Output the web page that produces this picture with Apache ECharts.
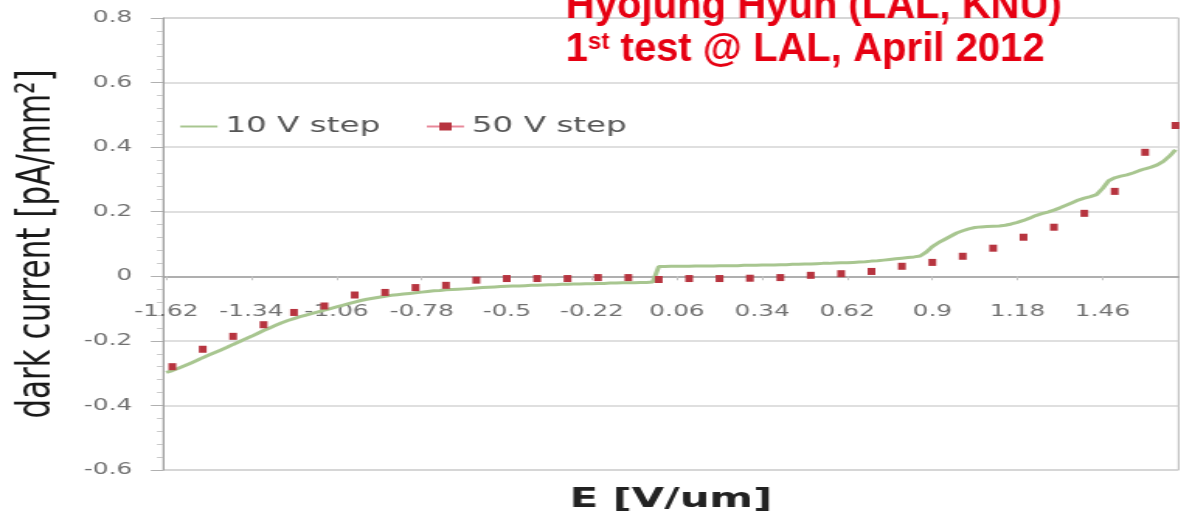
<!DOCTYPE html>
<html>
<head>
<meta charset="utf-8">
<script src="https://cdn.jsdelivr.net/npm/echarts@6/dist/echarts.min.js"></script>
<style>
  html, body { margin: 0; padding: 0; background: #ffffff; overflow: hidden; }
  #main { position: absolute; left: 0; top: 0; height: 518px; transform-origin: 0 0; }
</style>
</head>
<body>
<div id="main"></div>
<script>
// Field grid of the 10 V scan: E from -1.62 to 1.70 V/um in 0.02 steps (values in 1/100 V/um)
const E_START_CENTI = -162;
const E_STEP_CENTI = 2;
const E_COUNT = 167;

// Category labels printed under the axis
const tickLabels = ['-1.62', '-1.34', '-1.06', '-0.78', '-0.5', '-0.22', '0.06', '0.34', '0.62', '0.9', '1.18', '1.46'];

// Dark current density, 10 V steps [pA/mm^2]
const current10V = [
  -0.298, -0.292, -0.285, -0.277, -0.269, -0.261, -0.252, -0.244, -0.236, -0.228,
  -0.220, -0.211, -0.203, -0.194, -0.186, -0.177, -0.168, -0.160, -0.152, -0.144,
  -0.137, -0.131, -0.125, -0.120, -0.115, -0.110, -0.105, -0.100, -0.095, -0.090,
  -0.085, -0.080, -0.075, -0.071, -0.068, -0.065, -0.062, -0.059, -0.057, -0.055,
  -0.053, -0.051, -0.049, -0.047, -0.045, -0.044, -0.042, -0.041, -0.040, -0.039,
  -0.038, -0.036, -0.035, -0.034, -0.033, -0.032, -0.031, -0.030, -0.030, -0.029,
  -0.028, -0.028, -0.027, -0.026, -0.026, -0.025, -0.025, -0.024, -0.024, -0.023,
  -0.023, -0.022, -0.022, -0.021, -0.021, -0.020, -0.020, -0.020, -0.019, -0.019,
  -0.018,
  0.030, 0.030, 0.031, 0.031, 0.031, 0.031, 0.032, 0.032, 0.032, 0.032,
  0.033, 0.033, 0.033, 0.033, 0.034, 0.034, 0.034, 0.035, 0.035, 0.035,
  0.036, 0.036, 0.037, 0.037, 0.038, 0.038, 0.039, 0.040, 0.040, 0.041,
  0.042, 0.042, 0.043, 0.044, 0.045, 0.047, 0.048, 0.050, 0.052, 0.054,
  0.056, 0.058, 0.060, 0.063, 0.075, 0.092, 0.104, 0.114, 0.124, 0.134,
  0.141, 0.147, 0.151, 0.153, 0.154, 0.155, 0.156, 0.158, 0.162, 0.167,
  0.173, 0.180, 0.188, 0.194, 0.199, 0.205, 0.212, 0.220, 0.228, 0.236,
  0.242, 0.247, 0.253, 0.272, 0.296, 0.305, 0.310, 0.314, 0.320, 0.327,
  0.333, 0.338, 0.345, 0.356, 0.372, 0.392
];

// Field values of the 50 V scan [V/um]
const field50V = [
  -1.6, -1.5, -1.4, -1.3, -1.2, -1.1, -1.0, -0.9, -0.8, -0.7,
  -0.6, -0.5, -0.4, -0.3, -0.2, -0.1, 0.0, 0.1, 0.2, 0.3,
  0.4, 0.5, 0.6, 0.7, 0.8, 0.9, 1.0, 1.1, 1.2, 1.3,
  1.4, 1.5, 1.6, 1.7
];

// Dark current density, 50 V steps [pA/mm^2]
const current50V = [
  -0.280, -0.226, -0.186, -0.150, -0.112, -0.092, -0.058, -0.050, -0.035, -0.028,
  -0.012, -0.007, -0.007, -0.007, -0.004, -0.004, -0.010, -0.007, -0.007, -0.006,
  -0.004, 0.003, 0.008, 0.015, 0.031, 0.043, 0.062, 0.087, 0.121, 0.152,
  0.195, 0.263, 0.384, 0.467
];

const seriesNames = ['10 V step', '50 V step'];

// Current axis range [pA/mm^2]
const Y_MIN = -0.6, Y_MAX = 0.8, Y_STEP = 0.2;

// Horizontal stretch of the whole figure
const S = 1.55;
const W = 1181 / S;
const H = 518;
const GRID_TOP = 18, GRID_BOTTOM = 48;

const fmt = v => String(Math.round(v * 100) / 100);
const categories = [];
for (let i = 0; i < E_COUNT; i++) {
  categories.push(fmt((E_START_CENTI + E_STEP_CENTI * i) / 100));
}
// The 50 V points sit on every fifth category of the 10 V grid; gaps stay empty
const data50 = new Array(E_COUNT).fill(null);
field50V.forEach((e, i) => {
  const idx = Math.round((Math.round(e * 100) - E_START_CENTI) / E_STEP_CENTI);
  data50[idx] = current50V[i];
});
const showTick = (idx, val) => tickLabels.indexOf(val) >= 0;

// The category axis crosses the current axis at zero
const plotH = H - GRID_TOP - GRID_BOTTOM;
const zeroOffset = -plotH * (0 - Y_MIN) / (Y_MAX - Y_MIN);

const RED = '#e60012';
const dom = document.getElementById('main');
dom.style.width = W + 'px';
dom.style.transform = 'scaleX(' + S + ')';
const chart = echarts.init(dom, null, { renderer: 'canvas', width: W, height: H });

const option = {
  animation: false,
  backgroundColor: '#ffffff',
  grid: {
    left: 163 / S, right: 4 / S, top: GRID_TOP, bottom: GRID_BOTTOM,
    outerBoundsMode: 'none',
    containLabel: false,
    show: true, borderColor: '#b8b8b8', borderWidth: 1
  },
  legend: {
    left: 180 / S - 6, top: 111,
    itemWidth: 24, itemHeight: 10, itemGap: 29,
    textStyle: { fontFamily: 'DejaVu Sans', fontSize: 21, color: '#555555' },
    data: [
      { name: seriesNames[0], itemStyle: { opacity: 0 } },
      { name: seriesNames[1], lineStyle: { color: '#e8899a', width: 2, opacity: 1 } }
    ]
  },
  xAxis: {
    type: 'category',
    data: categories,
    boundaryGap: true,
    position: 'bottom',
    offset: zeroOffset,
    axisLine: { show: true, onZero: false, lineStyle: { color: '#a0a0a0', width: 1.5 } },
    axisTick: { show: true, interval: showTick, alignWithLabel: true, length: 4, lineStyle: { color: '#c4c4c4' } },
    axisLabel: { interval: showTick, margin: 28, color: '#707070', fontFamily: 'DejaVu Sans', fontSize: 16 },
    splitLine: { show: false },
    name: 'E [V/um]',
    nameLocation: 'middle',
    nameGap: 210,
    nameTextStyle: { fontFamily: 'DejaVu Sans', fontWeight: 'bold', fontSize: 27, color: '#222222' }
  },
  yAxis: {
    type: 'value', position: 'left',
    min: Y_MIN, max: Y_MAX, interval: Y_STEP,
    axisLine: { show: true, lineStyle: { color: '#a0a0a0', width: 1 } },
    axisTick: { show: true, length: 8, lineStyle: { color: '#b0b0b0' } },
    minorTick: { show: true, splitNumber: 5, length: 4, lineStyle: { color: '#c8c8c8' } },
    axisLabel: {
      margin: 20, color: '#707070', fontFamily: 'DejaVu Sans', fontSize: 16,
      padding: [8, 0, 0, 0],
      formatter: v => String(Math.round(v * 10) / 10)
    },
    splitLine: { show: true, lineStyle: { color: '#d4d4d4', width: 1.5 } },
    name: 'dark current [pA/mm²]',
    nameLocation: 'middle',
    nameGap: 66,
    nameRotate: 90,
    nameTextStyle: { fontFamily: 'DejaVu Sans', fontSize: 31, color: '#1a1a1a' }
  },
  graphic: [
    {
      type: 'text', x: 565 / S, y: 7, scaleX: 1 / S, z: 100,
      style: {
        text: 'Hyojung Hyun (LAL, KNU)',
        fill: RED, verticalAlign: 'middle',
        font: 'bold 40px "Liberation Sans", Arial, sans-serif'
      }
    },
    {
      type: 'text', x: 565 / S, y: 50, scaleX: 1 / S, z: 100,
      style: {
        text: '{a|1}{s|st}{a| test @ LAL, April 2012}',
        fill: RED, verticalAlign: 'middle',
        rich: {
          a: { fontSize: 40, fontWeight: 'bold', fontFamily: '"Liberation Sans", Arial, sans-serif', fill: RED },
          s: { fontSize: 24, fontWeight: 'bold', fontFamily: '"Liberation Sans", Arial, sans-serif', fill: RED, verticalAlign: 'top' }
        }
      }
    }
  ],
  series: [
    {
      name: seriesNames[0],
      type: 'line',
      data: current10V,
      symbol: 'none',
      lineStyle: { color: '#a8c690', width: 3 },
      itemStyle: { color: '#a8c690' },
      z: 2
    },
    {
      name: seriesNames[1],
      type: 'line',
      data: data50,
      symbol: 'rect',
      symbolSize: [5, 7],
      showSymbol: true,
      showAllSymbol: true,
      connectNulls: false,
      lineStyle: { width: 0, opacity: 0 },
      itemStyle: { color: '#b7343f' },
      z: 3
    }
  ]
};
chart.setOption(option);
</script>
</body>
</html>
